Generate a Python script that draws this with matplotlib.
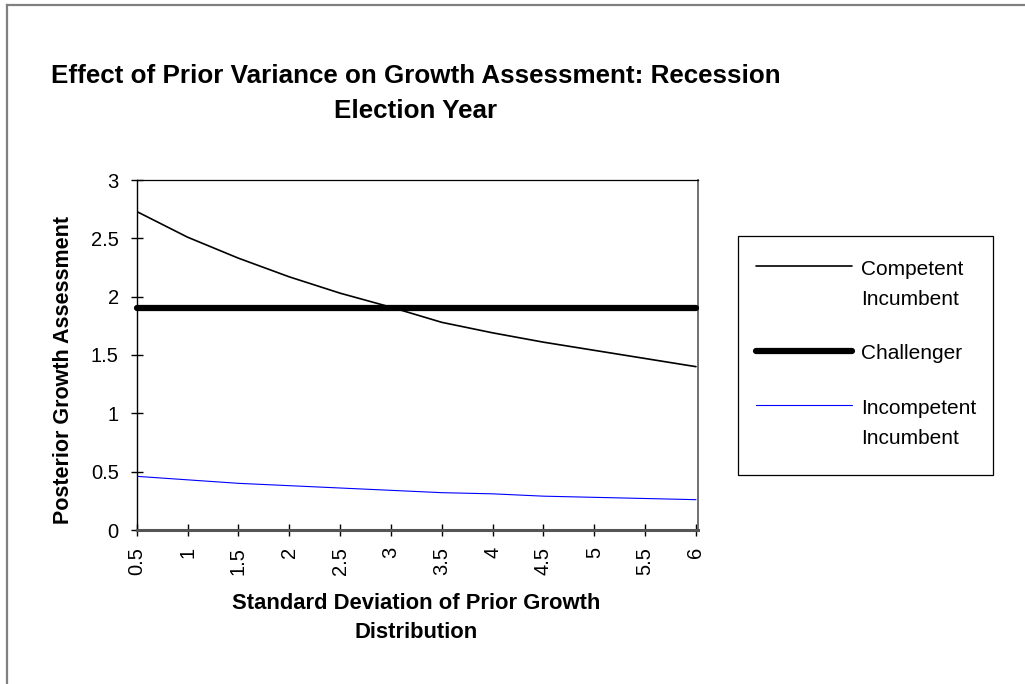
import matplotlib
matplotlib.use("Agg")
import matplotlib.pyplot as plt
from matplotlib.lines import Line2D
from matplotlib.patches import Rectangle

plt.rcParams['font.family'] = ['Liberation Sans', 'DejaVu Sans']

# ---------------- data ----------------
std_dev = [0.5, 1, 1.5, 2, 2.5, 3, 3.5, 4, 4.5, 5, 5.5, 6]
tick_labels = ["0.5", "1", "1.5", "2", "2.5", "3", "3.5", "4", "4.5", "5", "5.5", "6"]
competent = [2.73, 2.51, 2.33, 2.17, 2.03, 1.91, 1.78, 1.69, 1.61, 1.54, 1.47, 1.40]
challenger = [1.90, 1.90, 1.90, 1.90, 1.90, 1.90, 1.90, 1.90, 1.90, 1.90, 1.90, 1.90]
incompetent = [0.46, 0.43, 0.40, 0.38, 0.36, 0.34, 0.32, 0.31, 0.29, 0.28, 0.27, 0.26]
y_ticks = [0, 0.5, 1, 1.5, 2, 2.5, 3]
y_tick_labels = ["0", "0.5", "1", "1.5", "2", "2.5", "3"]

series_names = ["Competent\nIncumbent", "Challenger", "Incompetent\nIncumbent"]
series_values = [competent, challenger, incompetent]
series_colors = ["#000000", "#000000", "#0000ff"]
series_widths = [1.2, 4.5, 0.8]

title_lines = ["Effect of Prior Variance on Growth Assessment: Recession", "Election Year"]
xlabel_lines = ["Standard Deviation of Prior Growth", "Distribution"]
ylabel = "Posterior Growth Assessment"

# ---------------- figure ----------------
W, H = 1025, 684
fig = plt.figure(figsize=(W / 100, H / 100), dpi=100)
fig.patch.set_facecolor("white")


def fx(x):
    return x / W


def fy(y):
    return 1 - y / H


# outer chart border (only top/left visible in the reference)
fig.add_artist(Line2D([fx(7), fx(7)], [fy(5), fy(H + 5)], color="#808080", lw=1.6,
                      transform=fig.transFigure))
fig.add_artist(Line2D([fx(7), fx(W + 5)], [fy(5), fy(5)], color="#808080", lw=1.6,
                      transform=fig.transFigure))

ax_left, ax_right, ax_top, ax_bottom = 136.7, 698, 180, 530
ax = fig.add_axes([fx(ax_left), fy(ax_bottom), (ax_right - ax_left) / W, (ax_bottom - ax_top) / H])
ax.set_facecolor("white")

for vals, col, lw, name in zip(series_values, series_colors, series_widths, series_names):
    ln, = ax.plot(std_dev, vals, color=col, lw=lw, solid_capstyle="round", zorder=3)
    if name == "Challenger":
        ln.set_clip_on(False)

ax.set_xlim(0.5, 6.02)
ax.set_ylim(0, 3)
ax.set_xticks(std_dev)
ax.set_xticklabels(tick_labels, rotation=90, fontsize=14.5)
ax.set_yticks(y_ticks)
ax.set_yticklabels(y_tick_labels, fontsize=14.5)
ax.tick_params(axis="x", direction="inout", length=8, width=1, pad=8, color="#000000")
ax.tick_params(axis="y", direction="inout", length=8, width=1, pad=9, color="#000000")

ax.spines["left"].set_color("#000000")
ax.spines["left"].set_linewidth(1.0)
ax.spines["top"].set_color("#000000")
ax.spines["top"].set_linewidth(0.9)
ax.spines["right"].set_color("#666666")
ax.spines["right"].set_linewidth(1.3)
ax.spines["bottom"].set_color("#555555")
ax.spines["bottom"].set_linewidth(2.2)

# title
fig.text(fx(416), fy(83), title_lines[0], ha="center", va="baseline",
         fontsize=18.7, fontweight="bold")
fig.text(fx(416), fy(118), title_lines[1], ha="center", va="baseline",
         fontsize=18.7, fontweight="bold")

# axis labels
fig.text(fx(416), fy(609), xlabel_lines[0], ha="center", va="baseline",
         fontsize=15.8, fontweight="bold")
fig.text(fx(416), fy(638), xlabel_lines[1], ha="center", va="baseline",
         fontsize=15.8, fontweight="bold")
fig.text(fx(64), fy(370), ylabel, ha="center", va="center", rotation=90,
         fontsize=15.5, fontweight="bold")

# legend (drawn manually to match the reference layout)
fig.add_artist(Rectangle((fx(738), fy(475)), (993 - 738) / W, (475 - 236) / H,
                         transform=fig.transFigure, fill=False, edgecolor="#000000", lw=0.9))
handle_y = [266, 350.7, 405]
for name, col, lw, hy in zip(series_names, series_colors, series_widths, handle_y):
    fig.add_artist(Line2D([fx(755.7), fx(852)], [fy(hy), fy(hy)], color=col, lw=lw,
                          solid_capstyle="round", transform=fig.transFigure))
    for i, line in enumerate(name.split("\n")):
        fig.text(fx(861), fy(hy + 8.5 + i * 30.5), line, ha="left", va="baseline",
                 fontsize=15)

fig.savefig("out.png", dpi=100, facecolor="white")
